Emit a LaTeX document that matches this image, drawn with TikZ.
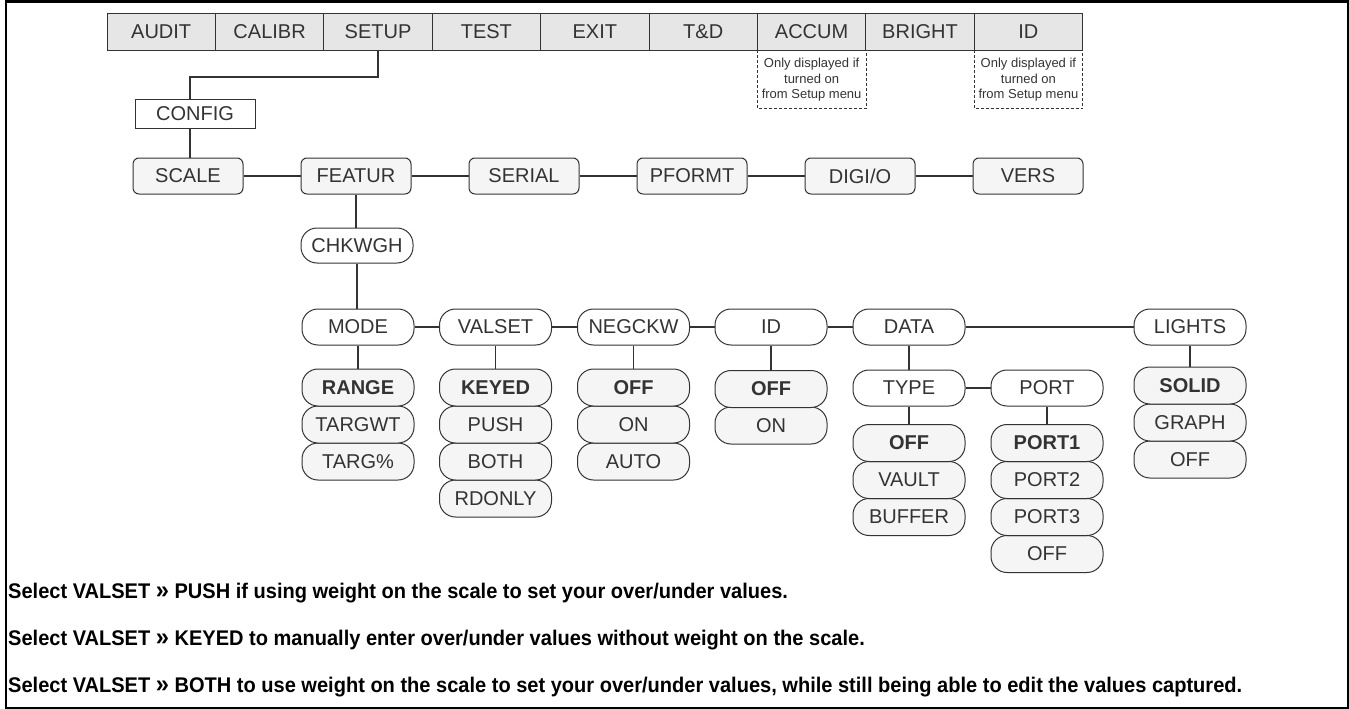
\documentclass[tikz,border=0pt]{standalone}
\usepackage{fontspec}
\setmainfont{Liberation Sans}
\newfontfamily\notefont[FakeStretch=0.945]{Liberation Sans}
\usetikzlibrary{calc,positioning}
\definecolor{ink}{HTML}{333333}
\definecolor{menufill}{HTML}{E6E6E6}
\definecolor{optfill}{HTML}{F5F5F5}
\newcommand{\gsep}{{\fontsize{25}{25}\selectfont »}}
\tikzset{
  lbl/.style={font=\fontsize{20}{22}\selectfont, text=ink},
  menucell/.style={lbl, draw=ink, fill=menufill, line width=0.9pt, minimum width=108.4pt, minimum height=37pt, inner sep=0pt},
  notebox/.style={minimum width=108.4pt, minimum height=58pt, inner sep=0pt, align=center, text=ink, font=\fontsize{13}{15.7}\selectfont},
  dashedge/.style={draw=ink, line width=0.8pt, dash pattern=on 3pt off 2pt},
  sqbox/.style={lbl, draw=ink, fill=white, line width=1pt, minimum width=120pt, minimum height=29pt, inner sep=0pt},
  rbox/.style={lbl, draw=ink, fill=optfill, line width=1pt, rounded corners=6pt, minimum width=110pt, minimum height=36pt, inner sep=0pt},
  capsule/.style={lbl, draw=ink, fill=white, line width=1pt, rounded corners=16pt, minimum width=112pt, minimum height=36pt, inner sep=0pt},
  opt/.style={capsule, fill=optfill, minimum height=37pt},
  optsel/.style={opt, font=\fontsize{20}{22}\selectfont\bfseries},
  conn/.style={draw=ink, line width=1.3pt},
  note/.style={anchor=base west, inner sep=0pt, font=\notefont\fontsize{21.2}{24}\selectfont\bfseries, text=black},
}
\begin{document}
\begin{tikzpicture}[x=1pt,y=-1pt]
\useasboundingbox (0,0) rectangle (1349,709);
\draw[line width=2.2pt] (6,1.5) rectangle (1347.8,707.6);

% menu bar
\node[menucell] (audit)  at (161.2,31.5) {AUDIT};
\node[menucell] (calibr) at (269.6,31.5) {CALIBR};
\node[menucell] (setup)  at (378.0,31.5) {SETUP};
\node[menucell] (test)   at (486.4,31.5) {TEST};
\node[menucell] (exit)   at (594.8,31.5) {EXIT};
\node[menucell] (td)     at (703.2,31.5) {T\&D};
\node[menucell] (accum)  at (811.6,31.5) {ACCUM};
\node[menucell] (bright) at (920.0,31.5) {BRIGHT};
\node[menucell] (idm)    at (1028.4,31.5) {ID};

% notes below ACCUM and ID
\node[notebox, anchor=north] (na) at (accum.south) {Only displayed if\\turned on\\from Setup menu};
\node[notebox, anchor=north] (ni) at (idm.south) {Only displayed if\\turned on\\from Setup menu};
\draw[dashedge] (na.north west) -- (na.south west) -- (na.south east) -- (na.north east);
\draw[dashedge] (ni.north west) -- (ni.south west) -- (ni.south east) -- (ni.north east);

% config
\node[sqbox] (config) at (195,113.5) {CONFIG};
\coordinate (j1) at (190,77);

% second level
\node[rbox] (scale)  at (188,176) {SCALE};
\node[rbox] (featur) at (356,176) {FEATUR};
\node[rbox] (serial) at (524,176) {SERIAL};
\node[rbox] (pformt) at (692,176) {PFORMT};
\node[rbox] (digio)  at (860,176) {DIGI/O};
\node[rbox] (vers)   at (1028,176) {VERS};

\draw[conn] (setup.south) |- (j1) -- (j1 |- config.north);
\draw[conn] (j1 |- config.south) -- (j1 |- scale.north);
\draw[conn] (scale.east) -- (featur.west);
\draw[conn] (featur.east) -- (serial.west);
\draw[conn] (serial.east) -- (pformt.west);
\draw[conn] (pformt.east) -- (digio.west);
\draw[conn] (digio.east) -- (vers.west);

% chkwgh
\node[capsule, minimum height=35pt] (chk) at (357,245.5) {CHKWGH};
\draw[conn] (chk.north -| featur.south) -- (featur.south);

% fourth level
\node[capsule] (mode)   at (358,327) {MODE};
\node[capsule] (valset) at (495.5,327) {VALSET};
\node[capsule] (negckw) at (633.5,327) {NEGCKW};
\node[capsule] (idn)    at (771,327) {ID};
\node[capsule] (data)   at (909,327) {DATA};
\node[capsule] (lights) at (1190,327) {LIGHTS};
\node[capsule] (type)   at (909,388) {TYPE};
\node[capsule] (port)   at (1047,388) {PORT};

\draw[conn] (chk.south) -- (chk.south |- mode.north);
\draw[conn] (mode.east) -- (valset.west);
\draw[conn] (valset.east) -- (negckw.west);
\draw[conn] (negckw.east) -- (idn.west);
\draw[conn] (idn.east) -- (data.west);
\draw[conn] (data.east) -- (lights.west);
\draw[conn] (data.south) -- (type.north);
\draw[conn] (type.east) -- (port.west);

% options
\node[opt] (m3) at (358,461.5) {TARG\%};
\node[opt] (m2) at (358,424.5) {TARGWT};
\node[optsel] (m1) at (358,387.5) {RANGE};

\node[opt] (v4) at (495.5,498.5) {RDONLY};
\node[opt] (v3) at (495.5,461.5) {BOTH};
\node[opt] (v2) at (495.5,424.5) {PUSH};
\node[optsel] (v1) at (495.5,387.5) {KEYED};

\node[opt] (n3) at (633.5,461.5) {AUTO};
\node[opt] (n2) at (633.5,424.5) {ON};
\node[optsel] (n1) at (633.5,387.5) {OFF};

\node[opt] (i2) at (771,425.5) {ON};
\node[optsel] (i1) at (771,389) {OFF};

\node[opt] (t3) at (909,517) {BUFFER};
\node[opt] (t2) at (909,480) {VAULT};
\node[optsel] (t1) at (909,443) {OFF};

\node[opt] (p4) at (1047,554) {OFF};
\node[opt] (p3) at (1047,517) {PORT3};
\node[opt] (p2) at (1047,480) {PORT2};
\node[optsel] (p1) at (1047,443) {PORT1};

\node[opt] (l3) at (1190,459.5) {OFF};
\node[opt] (l2) at (1190,422.5) {GRAPH};
\node[optsel] (l1) at (1190,385.5) {SOLID};

\draw[conn] (mode.south) -- (m1.north);
\draw[conn] (valset.south) -- (v1.north);
\draw[conn] (negckw.south) -- (n1.north);
\draw[conn] (idn.south) -- (i1.north);
\draw[conn] (type.south) -- (t1.north);
\draw[conn] (port.south) -- (p1.north);
\draw[conn] (lights.south) -- (l1.north);

% notes
\node[note] (s1) at (8,598) {Select VALSET \gsep{} PUSH if using weight on the scale to set your over/under values.};
\node[note] (s2) at (8,645) {Select VALSET \gsep{} KEYED to manually enter over/under values without weight on the scale.};
\node[note] (s3) at (8,692) {Select VALSET \gsep{} BOTH to use weight on the scale to set your over/under values, while still being able to edit the values captured.};
\end{tikzpicture}
\end{document}
